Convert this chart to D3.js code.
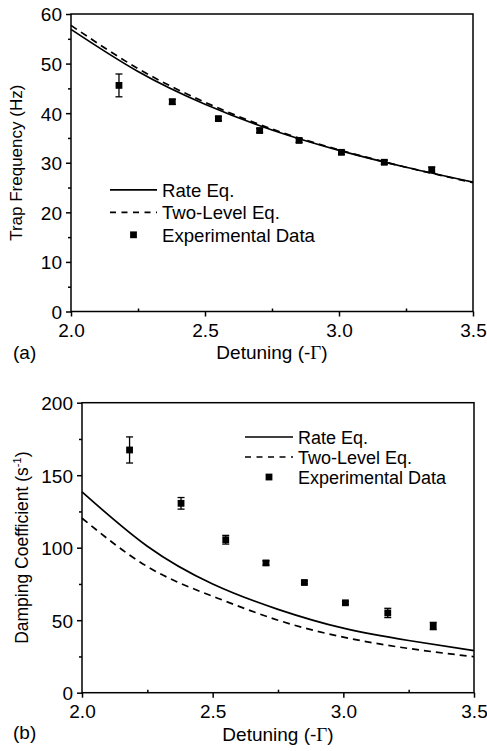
<!DOCTYPE html>
<html>
<head>
<meta charset="utf-8">
<script src="https://cdn.jsdelivr.net/npm/d3@7"></script>
<style>
  html, body { margin: 0; padding: 0; background: #fff; }
  svg { display: block; font-family: "Liberation Sans", Arial, sans-serif; }
</style>
</head>
<body>
<svg id="fig" width="487" height="751"></svg>
<script>
// Detuning axis (shared by both panels)
const detuningTicks = [2.0, 2.5, 3.0, 3.5];
const detuningMinor = [2.25, 2.75, 3.25];

// Panel (a): trap frequency
const trapTicks = [0, 10, 20, 30, 40, 50, 60];
const trapMinor = [5, 15, 25, 35, 45, 55];
const curveDetuning = [2.0, 2.25, 2.5, 2.75, 3.0, 3.25, 3.5];
const trapRate = [56.9, 48.4, 41.8, 36.6, 32.5, 29.1, 26.1];
const trapTwoLevel = [57.7, 49.0, 42.2, 36.8, 32.6, 29.1, 26.0];
const trapExpDetuning = [2.179, 2.378, 2.55, 2.704, 2.851, 3.009, 3.169, 3.346];
const trapExp = [45.6, 42.3, 38.9, 36.5, 34.5, 32.1, 30.1, 28.6];
const trapErr = [2.3, 0.5, 0.4, 0.4, 0.4, 0.4, 0.4, 0.5];

// Panel (b): damping coefficient
const dampTicks = [0, 50, 100, 150, 200];
const dampMinor = [25, 75, 125, 175];
const dampRate = [138.5, 101.0, 75.0, 57.5, 44.5, 36.0, 29.0];
const dampTwoLevel = [120.3, 87.0, 66.5, 50.0, 38.3, 30.5, 24.8];
const dampExpDetuning = [2.182, 2.379, 2.55, 2.704, 2.851, 3.008, 3.17, 3.344];
const dampExp = [167.4, 130.6, 105.5, 89.5, 76.0, 62.0, 55.0, 46.0];
const dampErr = [9.0, 4.0, 3.0, 1.5, 1.0, 1.0, 3.2, 2.5];

const legendLabels = ["Rate Eq.", "Two-Level Eq.", "Experimental Data"];

const svg = d3.select("#fig");

function drawPanel(p) {
  const x = d3.scaleLinear().domain([2.0, 3.5]).range([p.left, p.right]);
  const y = d3.scaleLinear().domain(p.yDomain).range([p.bottom, p.top]);
  const g = svg.append("g");

  // frame
  g.append("rect")
    .attr("x", p.left).attr("y", p.top)
    .attr("width", p.right - p.left).attr("height", p.bottom - p.top)
    .attr("fill", "none").attr("stroke", "#000").attr("stroke-width", 1.5);

  // x axis: major ticks outward, minor ticks inward
  const xAxis = g.append("g").attr("transform", `translate(0,${p.bottom})`)
    .call(d3.axisBottom(x).tickValues(detuningTicks).tickSize(5).tickFormat(d3.format(".1f")));
  xAxis.select(".domain").remove();
  xAxis.selectAll("line").attr("stroke-width", 1.5);
  xAxis.selectAll("text").attr("y", 25).attr("dy", null)
    .attr("font-size", p.tickFont).attr("font-family", "Liberation Sans, Arial, sans-serif").attr("fill", "#000");
  const xMinorAxis = g.append("g").attr("transform", `translate(0,${p.bottom})`)
    .call(d3.axisBottom(x).tickValues(detuningMinor).tickSize(-3).tickFormat(""));
  xMinorAxis.select(".domain").remove();
  xMinorAxis.selectAll("line").attr("stroke-width", 1.5);

  // y axis: ticks outward
  const yAxis = g.append("g").attr("transform", `translate(${p.left},0)`)
    .call(d3.axisLeft(y).tickValues(p.yTicks).tickSize(5).tickPadding(4));
  yAxis.select(".domain").remove();
  yAxis.selectAll("line").attr("stroke-width", 1.5);
  yAxis.selectAll("text").attr("dy", "0.36em")
    .attr("font-size", p.tickFont).attr("font-family", "Liberation Sans, Arial, sans-serif").attr("fill", "#000");
  const yMinorAxis = g.append("g").attr("transform", `translate(${p.left},0)`)
    .call(d3.axisLeft(y).tickValues(p.yMinor).tickSize(3).tickFormat(""));
  yMinorAxis.select(".domain").remove();
  yMinorAxis.selectAll("line").attr("stroke-width", 1.5);

  // theory curves
  const line = d3.line().x((d, i) => x(curveDetuning[i])).y(d => y(d)).curve(d3.curveNatural);
  g.append("path").datum(p.twoLevel).attr("d", line)
    .attr("fill", "none").attr("stroke", "#000").attr("stroke-width", 1.7).attr("stroke-dasharray", "7,5");
  g.append("path").datum(p.rate).attr("d", line)
    .attr("fill", "none").attr("stroke", "#000").attr("stroke-width", 1.7);

  // experimental points with error bars
  const pts = p.expX.map((d, i) => ({ x: d, y: p.expY[i], e: p.expErr[i] }));
  const eb = g.append("g").selectAll("g").data(pts).join("g");
  eb.append("line")
    .attr("x1", d => x(d.x)).attr("x2", d => x(d.x))
    .attr("y1", d => y(d.y + d.e)).attr("y2", d => y(d.y - d.e))
    .attr("stroke", "#000").attr("stroke-width", 1.3);
  eb.append("line")
    .attr("x1", d => x(d.x) - 3.5).attr("x2", d => x(d.x) + 3.5)
    .attr("y1", d => y(d.y + d.e)).attr("y2", d => y(d.y + d.e))
    .attr("stroke", "#000").attr("stroke-width", 1.3);
  eb.append("line")
    .attr("x1", d => x(d.x) - 3.5).attr("x2", d => x(d.x) + 3.5)
    .attr("y1", d => y(d.y - d.e)).attr("y2", d => y(d.y - d.e))
    .attr("stroke", "#000").attr("stroke-width", 1.3);
  eb.append("rect")
    .attr("x", d => x(d.x) - 3.4).attr("y", d => y(d.y) - 3.4)
    .attr("width", 6.8).attr("height", 6.8).attr("fill", "#000");

  // legend
  const lg = g.append("g");
  legendLabels.forEach((label, i) => {
    const by = p.legend.y + i * p.legend.dy;
    const ly = by - p.legend.font * 0.36;
    if (i < 2) {
      lg.append("line")
        .attr("x1", p.legend.x0).attr("x2", p.legend.x1)
        .attr("y1", ly).attr("y2", ly)
        .attr("stroke", "#000").attr("stroke-width", 1.7)
        .attr("stroke-dasharray", i === 1 ? "6,5.5" : null);
    } else {
      const cx = (p.legend.x0 + p.legend.x1) / 2;
      lg.append("rect").attr("x", cx - 3.4).attr("y", ly - 3.4)
        .attr("width", 6.8).attr("height", 6.8).attr("fill", "#000");
    }
    lg.append("text").attr("x", p.legend.tx).attr("y", by)
      .attr("font-size", p.legend.font).text(label);
  });

  // x axis title
  const xt = g.append("text")
    .attr("x", (p.left + p.right) / 2).attr("y", p.xTitleY)
    .attr("text-anchor", "middle").attr("font-size", p.titleFont);
  xt.append("tspan").text("Detuning (-");
  xt.append("tspan").attr("font-family", "Liberation Serif, Times New Roman, serif").text("Γ");
  xt.append("tspan").text(")");

  // y axis title
  const yt = g.append("text")
    .attr("transform", `translate(${p.yTitleX},${(p.top + p.bottom) / 2}) rotate(-90)`)
    .attr("text-anchor", "middle").attr("font-size", p.yTitleFont);
  p.yTitle(yt);

  // panel tag
  g.append("text").attr("x", 13).attr("y", p.tagY)
    .attr("font-size", p.titleFont).text(p.tag);
}

drawPanel({
  left: 71, right: 473, top: 14, bottom: 311.5,
  yDomain: [0, 60], yTicks: trapTicks, yMinor: trapMinor,
  rate: trapRate, twoLevel: trapTwoLevel,
  expX: trapExpDetuning, expY: trapExp, expErr: trapErr,
  tickFont: 19, titleFont: 19, yTitleFont: 17,
  legend: { x0: 110, x1: 157, tx: 162, y: 196.5, dy: 22.5, font: 18.6 },
  xTitleY: 359, yTitleX: 22,
  yTitle: t => t.text("Trap Frequency (Hz)"),
  tag: "(a)", tagY: 359
});

drawPanel({
  left: 82, right: 474, top: 402.7, bottom: 692.7,
  yDomain: [0, 200], yTicks: dampTicks, yMinor: dampMinor,
  rate: dampRate, twoLevel: dampTwoLevel,
  expX: dampExpDetuning, expY: dampExp, expErr: dampErr,
  tickFont: 19, titleFont: 19, yTitleFont: 17.5,
  legend: { x0: 245, x1: 293, tx: 298, y: 443.5, dy: 20, font: 18 },
  xTitleY: 741, yTitleX: 28,
  yTitle: t => {
    t.append("tspan").text("Damping Coefficient (s");
    t.append("tspan").attr("font-size", 11).attr("dy", -7).text("-1");
    t.append("tspan").attr("dy", 7).text(")");
  },
  tag: "(b)", tagY: 739
});
</script>
</body>
</html>
